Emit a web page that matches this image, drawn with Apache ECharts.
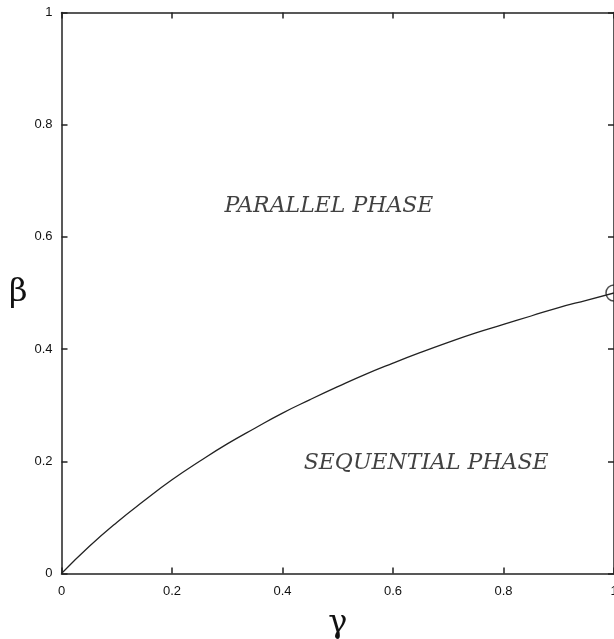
<!DOCTYPE html>
<html>
<head>
<meta charset="utf-8">
<script src="https://cdn.jsdelivr.net/npm/echarts@6/dist/echarts.min.js"></script>
<style>html,body{margin:0;padding:0;background:#fff}#c{width:614px;height:639px}</style>
</head>
<body>
<div id="c"></div>
<script>
var gamma = [0,0.05,0.1,0.15,0.2,0.25,0.3,0.35,0.4,0.45,0.5,0.55,0.6,0.65,0.7,0.75,0.8,0.85,0.9,0.95,1.0];
var beta  = [0,0.048,0.091,0.130,0.167,0.200,0.231,0.259,0.286,0.310,0.333,0.355,0.375,0.394,0.412,0.429,0.444,0.459,0.474,0.487,0.5];
var endPoint = [1.0, 0.5];
var ticks = [0,0.2,0.4,0.6,0.8,1];
var phaseLabels = [
  {name:'PARALLEL PHASE', value:[0.484,0.655]},
  {name:'SEQUENTIAL PHASE', value:[0.66,0.197]}
];
var xName = 'γ', yName = 'β';

var chart = echarts.init(document.getElementById('c'), null, {renderer:'canvas'});
var axisCol = '#222';
function fmt(v){ return v===0 ? '0' : (v===1 ? '1' : String(v)); }
var baseAxis = {
  type:'value', min:0, max:1, interval:0.2,
  axisLine:{show:true, onZero:false, lineStyle:{color:axisCol, width:1.5}},
  axisTick:{show:true, inside:true, length:6, lineStyle:{color:axisCol, width:1.5}},
  splitLine:{show:false}
};
chart.setOption({
  animation:false,
  backgroundColor:'#fff',
  grid:{left:61.5, right:0, top:12.5, bottom:65.5, containLabel:false, outerBoundsMode:'none'},
  xAxis:[
    Object.assign({}, baseAxis, {position:'bottom',
      axisLabel:{show:true, margin:11, color:'#111', fontFamily:'Liberation Sans', fontSize:13, formatter:fmt},
      name:xName, nameLocation:'middle', nameGap:34,
      nameTextStyle:{fontFamily:'DejaVu Serif', fontSize:32, color:'#111'}}),
    Object.assign({}, baseAxis, {position:'top', axisLabel:{show:false}})
  ],
  yAxis:[
    Object.assign({}, baseAxis, {position:'left',
      axisLabel:{show:true, margin:9, color:'#111', fontFamily:'Liberation Sans', fontSize:13, formatter:fmt},
      name:yName, nameLocation:'middle', nameGap:34, nameRotate:0,
      nameTextStyle:{fontFamily:'DejaVu Serif', fontSize:32, color:'#111'}}),
    Object.assign({}, baseAxis, {position:'right', axisLabel:{show:false}})
  ],
  series:[
    {type:'line', data:gamma.map(function(g,i){return [g,beta[i]];}), smooth:true,
     showSymbol:false, symbol:'none', lineStyle:{color:'#222', width:1.3}, clip:false},
    {type:'scatter', data:[endPoint], symbol:'circle', symbolSize:16, clip:false,
     itemStyle:{color:'rgba(255,255,255,0)', borderColor:'#222', borderWidth:1.5}},
    {type:'scatter', data:phaseLabels, symbolSize:0, clip:false,
     label:{show:true, position:'inside', formatter:function(p){return p.name;},
       fontFamily:'DejaVu Serif', fontStyle:'italic', fontSize:22, color:'#111'}}
  ]
});
</script>
</body>
</html>
